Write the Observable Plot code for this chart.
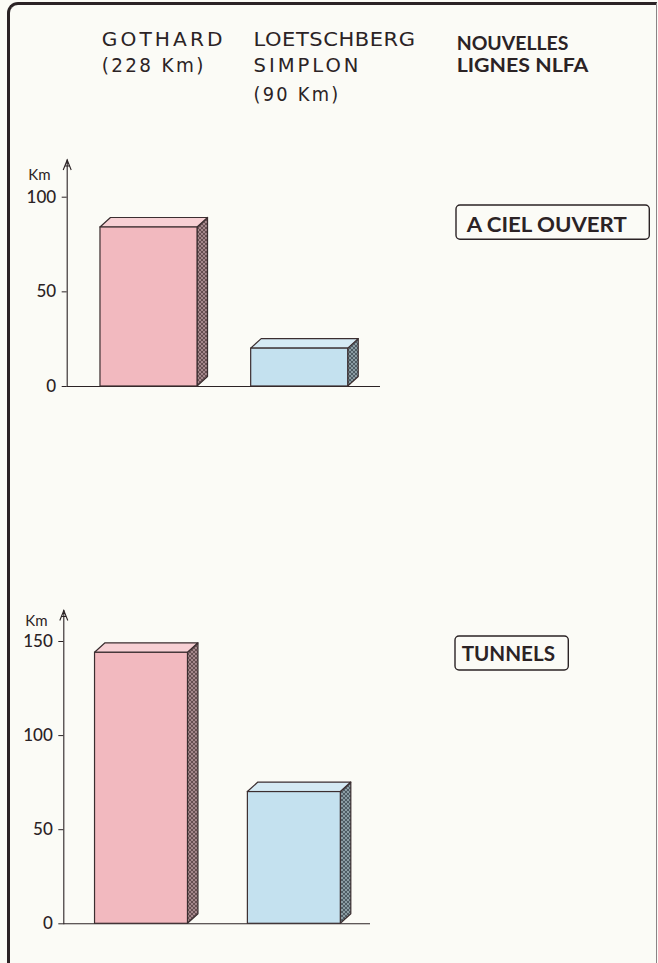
<!DOCTYPE html>
<html><head><meta charset="utf-8">
<script src="https://cdn.jsdelivr.net/npm/d3@7"></script>
<script src="https://cdn.jsdelivr.net/npm/@observablehq/plot@0.6"></script>
<style>
html,body{margin:0;padding:0;background:#fbfbf6;}
#page{position:relative;width:658px;height:963px;overflow:hidden;background:#fbfbf6;font-family:Lato,"DejaVu Sans",sans-serif;color:#2b2325;}
#border{position:absolute;left:7px;top:2px;width:650px;height:990px;border-left:3px solid #2b2325;border-top:3px solid #2b2325;border-right:1px solid #8a8486;border-top-left-radius:11px;box-sizing:border-box;}
.chart{position:absolute;left:0;}
#overlay{position:absolute;left:0;top:0;}
</style></head><body>
<svg width="0" height="0" style="position:absolute">
<defs>
<pattern id="hatchPink" patternUnits="userSpaceOnUse" width="4" height="4">
<rect width="4" height="4" fill="#664f52"/>
<path d="M0,4 L4,0 M-1,1 L1,-1 M3,5 L5,3 M0,0 L4,4 M-1,3 L1,5 M3,-1 L5,1" stroke="#bf9fa3" stroke-width="0.7"/>
</pattern>
<pattern id="hatchBlue" patternUnits="userSpaceOnUse" width="4" height="4">
<rect width="4" height="4" fill="#4f5c64"/>
<path d="M0,4 L4,0 M-1,1 L1,-1 M3,5 L5,3 M0,0 L4,4 M-1,3 L1,5 M3,-1 L5,1" stroke="#a5b7bf" stroke-width="0.7"/>
</pattern>
</defs>
</svg>
<div id="page"><div id="border"></div></div>
<script>
// ---- data ----
const categories = ["GOTHARD", "LOETSCHBERG-SIMPLON"];
const openAirKm = [84, 20];
const tunnelKm = [144, 70];
const openAirTicks = [0, 50, 100];
const tunnelTicks = [0, 50, 100, 150];
const headerGothard = ["GOTHARD", "(228 Km)"];
const headerLoetschberg = ["LOETSCHBERG", "SIMPLON", "(90 Km)"];
const headerNlfa = ["NOUVELLES", "LIGNES NLFA"];
const panelLabels = ["A CIEL OUVERT", "TUNNELS"];
const axisUnit = "Km";

// ---- styles ----
const frontFills = ["#f2b9bf", "#c4e1ef"];
const topFills = ["#f7d0d4", "#d5eaf4"];
const sideFills = ["url(#hatchPink)", "url(#hatchBlue)"];
const ink = "#2b2325";
const edge = "#3b2e30";
const DEPTH_X = 10.5, DEPTH_Y = 9.5;

const arrowSymbol = {
  draw(ctx) {
    ctx.moveTo(-4, 10); ctx.lineTo(0, 0); ctx.lineTo(4, 10);
    ctx.moveTo(-2.4, 6); ctx.lineTo(2.4, 6);
    ctx.moveTo(-1.2, 3); ctx.lineTo(1.2, 3);
  }
};

function barChart(cfg) {
  const {values, ticks, yDomain, yRange, xRange, half, width, height,
         marginLeft, marginTop, marginBottom, marginRight, kmDx, kmDy} = cfg;
  const pxX = (xRange[1] - xRange[0]);
  const pxY = (yRange[0] - yRange[1]) / (yDomain[1] - yDomain[0]);
  const ddx = DEPTH_X / pxX, ddy = DEPTH_Y / pxY;
  const bars = categories.map((c, i) => ({cat: c, i, v: values[i]}));
  const side = bars.flatMap(b => [
    {i: b.i, x: b.i + half, y1: 0, y2: b.v},
    {i: b.i, x: b.i + half + ddx, y1: ddy, y2: b.v + ddy}
  ]);
  const top = bars.flatMap(b => [
    {i: b.i, y: b.v, x1: b.i - half, x2: b.i + half},
    {i: b.i, y: b.v + ddy, x1: b.i - half + ddx, x2: b.i + half + ddx}
  ]);
  return Plot.plot({
    width, height, marginLeft, marginTop, marginBottom, marginRight,
    style: {background: "transparent", fontFamily: "Lato, sans-serif", fontSize: "17px", color: ink, overflow: "visible"},
    x: {domain: [0, 1], range: xRange, axis: null},
    y: {domain: yDomain, range: yRange, axis: null},
    color: {type: "identity"},
    marks: [
      Plot.frame({anchor: "left", stroke: ink, strokeWidth: 1.1}),
      Plot.ruleY([0], {stroke: ink, strokeWidth: 1.1}),
      Plot.axisY({ticks, tickSize: 5, tickPadding: 6, label: null, fontSize: 17, fontWeight: 500, stroke: ink, fill: ink}),
      Plot.areaY(side, {x: "x", y1: "y1", y2: "y2", z: "i", fill: d => sideFills[d.i], stroke: edge, strokeWidth: 1.2, curve: "linear"}),
      Plot.areaX(top, {y: "y", x1: "x1", x2: "x2", z: "i", fill: d => topFills[d.i], stroke: edge, strokeWidth: 1.2, curve: "linear"}),
      Plot.rectY(bars, {x1: d => d.i - half, x2: d => d.i + half, y1: 0, y2: "v", fill: d => frontFills[d.i], stroke: edge, strokeWidth: 1.2}),
      Plot.text([axisUnit], {frameAnchor: "top-left", textAnchor: "start", dx: kmDx, dy: kmDy, fontSize: 15, fill: ink}),
      Plot.dot([0], {frameAnchor: "top-left", symbol: arrowSymbol, r: 4, stroke: ink, fill: "none", strokeWidth: 1.1})
    ]
  });
}

const page = document.getElementById("page");

const top1 = barChart({
  values: openAirKm, ticks: openAirTicks, yDomain: [0, 100], yRange: [246, 56.7],
  xRange: [148.5, 299.2], half: 0.322, width: 420, height: 260,
  marginLeft: 66.7, marginTop: 19.5, marginBottom: 14, marginRight: 40, kmDx: -39, kmDy: 9
});
top1.classList.add("chart"); top1.style.top = "140px";
page.appendChild(top1);

const bottom1 = barChart({
  values: tunnelKm, ticks: tunnelTicks, yDomain: [0, 150], yRange: [323.3, 41],
  xRange: [141, 293.85], half: 0.304, width: 400, height: 340,
  marginLeft: 63.3, marginTop: 10, marginBottom: 16.7, marginRight: 30, kmDx: -38.5, kmDy: 5
});
bottom1.classList.add("chart"); bottom1.style.top = "600px";
page.appendChild(bottom1);

// ---- header & panel labels ----
const ov = d3.select(page).append("svg").attr("id", "overlay")
  .attr("width", 658).attr("height", 963).style("fill", ink);

function line(txt, x, y, w, size, weight, spacing, family) {
  ov.append("text").attr("x", x).attr("y", y).attr("font-size", size)
    .attr("font-family", family).attr("letter-spacing", spacing)
    .attr("font-weight", weight).attr("textLength", w).attr("lengthAdjust", "spacingAndGlyphs")
    .attr("fill", ink).text(txt);
}
const headFont = "'DejaVu Sans', sans-serif";
const boldFont = "Lato, sans-serif";
const gW = [124, 104], lW = [162, 108, 87], nW = [111.7, 131.7];
const gS = [3, 2.5], lS = [0.5, 3, 2.5];
const gY = [46.3, 72.3], lY = [46.3, 72.3, 100.5], nY = [50.3, 72];
headerGothard.forEach((t, i) => line(t, 101.7, gY[i], gW[i], 19.5, 400, gS[i], headFont));
headerLoetschberg.forEach((t, i) => line(t, 253.5, lY[i], lW[i], 19.5, 400, lS[i], headFont));
headerNlfa.forEach((t, i) => line(t, 456.7, nY[i], nW[i], 19.5, 700, 0, boldFont));

const boxes = [
  {x: 456, y: 205, w: 193.3, h: 34.3, tx: 466.7, ty: 231.7, tw: 160},
  {x: 455, y: 636, w: 113.3, h: 34, tx: 461.7, ty: 660.7, tw: 93.3}
];
panelLabels.forEach((t, i) => {
  const b = boxes[i];
  ov.append("rect").attr("x", b.x).attr("y", b.y).attr("width", b.w).attr("height", b.h)
    .attr("rx", 4).attr("fill", "none").attr("stroke", ink).attr("stroke-width", 1.4);
  line(t, b.tx, b.ty, b.tw, 21, 700, 0, boldFont);
});
</script>
</body></html>
